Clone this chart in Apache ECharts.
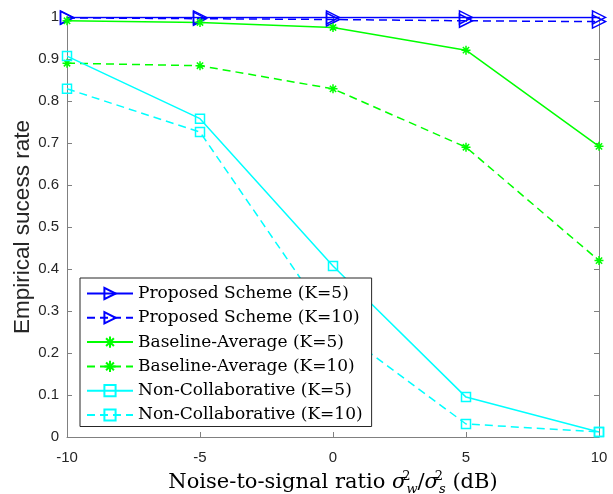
<!DOCTYPE html>
<html>
<head>
<meta charset="utf-8">
<script src="https://cdn.jsdelivr.net/npm/echarts@6/dist/echarts.min.js"></script>
<style>
html,body{margin:0;padding:0;background:#fff;}
#chart{width:613px;height:494px;}
</style>
</head>
<body>
<div id="chart"></div>
<script>
// ---- data ----
const xValues = [-10, -5, 0, 5, 10];
const xTicks = [-10, -5, 0, 5, 10];
const yTicks = [0, 0.1, 0.2, 0.3, 0.4, 0.5, 0.6, 0.7, 0.8, 0.9, 1];
const seriesNames = [
  'Proposed Scheme (K=5)',
  'Proposed Scheme (K=10)',
  'Baseline-Average (K=5)',
  'Baseline-Average (K=10)',
  'Non-Collaborative (K=5)',
  'Non-Collaborative (K=10)'
];
const proposedK5 = [0.999, 0.999, 0.999, 0.999, 0.999];
const proposedK10 = [0.998, 0.996, 0.994, 0.991, 0.989];
const baselineK5 = [0.991, 0.987, 0.975, 0.921, 0.692];
const baselineK10 = [0.890, 0.884, 0.829, 0.690, 0.420];
const nonCollabK5 = [0.907, 0.758, 0.407, 0.095, 0.012];
const nonCollabK10 = [0.829, 0.726, 0.265, 0.031, 0.012];

const BLUE = '#0000ff', GREEN = '#00ff00', CYAN = '#00ffff';
const STAR = 'path://M0,-10L0,10M-10,0L10,0M-7,-7L7,7M-7,7L7,-7';

function mk(name, vals, color, symbol, dashed, size, rot) {
  return {
    name: name,
    type: 'line',
    data: xValues.map((x, i) => [x, vals[i]]),
    symbol: symbol,
    symbolSize: size,
    symbolRotate: rot || 0,
    showAllSymbol: true,
    lineStyle: { color: color, width: 1.5, type: dashed ? [8, 5] : 'solid' },
    itemStyle: { color: 'rgba(0,0,0,0)', borderColor: color, borderWidth: 1.5 },
    emphasis: { disabled: true },
    animation: false,
    z: 2
  };
}

const series = [
  mk(seriesNames[0], proposedK5, BLUE, 'triangle', false, 13, -90),
  mk(seriesNames[1], proposedK10, BLUE, 'triangle', true, 13, -90),
  mk(seriesNames[2], baselineK5, GREEN, STAR, false, 9),
  mk(seriesNames[3], baselineK10, GREEN, STAR, true, 9),
  mk(seriesNames[4], nonCollabK5, CYAN, 'rect', false, 9),
  mk(seriesNames[5], nonCollabK10, CYAN, 'rect', true, 9)
];

const axisCol = '#808080';
const labCol = '#262626';
const grid = { left: 67, right: 14, top: 17, bottom: 57, containLabel: false, outerBoundsMode: 'none' };

const chart = echarts.init(document.getElementById('chart'), null, { renderer: 'canvas' });
chart.setOption({
  backgroundColor: '#ffffff',
  animation: false,
  grid: grid,
  legend: {
    orient: 'vertical',
    left: 80,
    top: 278,
    data: seriesNames,
    itemWidth: 46,
    itemHeight: 14,
    itemGap: 7.3,
    padding: [7, 9, 3, 6],
    backgroundColor: '#ffffff',
    borderColor: '#262626',
    borderWidth: 1,
    borderRadius: 0,
    textStyle: { fontFamily: 'DejaVu Serif', fontSize: 17, color: '#000' },
    selectedMode: false,
    z: 10
  },
  xAxis: [{
    type: 'value', min: -10, max: 10, interval: 5,
    position: 'bottom',
    axisLine: { show: true, onZero: false, lineStyle: { color: axisCol, width: 1 } },
    axisTick: { show: true, inside: true, length: 5, lineStyle: { color: axisCol } },
    splitLine: { show: false },
    axisLabel: { color: labCol, fontFamily: 'Liberation Sans', fontSize: 15, margin: 13,
      formatter: v => xTicks.includes(v) ? String(v) : '' },
    name: '{t|Noise-to-signal ratio }{i|σ}{sup|2}{sub|w}{t|/}{i|σ}{sup|2}{sub|s}{t| (dB)}',
    nameLocation: 'middle',
    nameGap: 31,
    nameTextStyle: {
      rich: {
        t: { fontFamily: 'DejaVu Serif', fontSize: 21, color: '#000', lineHeight: 26, verticalAlign: 'middle' },
        i: { fontFamily: 'DejaVu Serif', fontStyle: 'italic', fontSize: 21, color: '#000', lineHeight: 26, verticalAlign: 'middle' },
        sup: { fontFamily: 'DejaVu Serif', fontSize: 13, color: '#000', lineHeight: 26, verticalAlign: 'top', width: 0.1 },
        sub: { fontFamily: 'DejaVu Serif', fontStyle: 'italic', fontSize: 13, color: '#000', lineHeight: 26, verticalAlign: 'bottom' }
      }
    }
  }, {
    type: 'value', min: -10, max: 10, interval: 5,
    position: 'top',
    axisLine: { show: true, onZero: false, lineStyle: { color: axisCol, width: 1 } },
    axisTick: { show: true, inside: true, length: 5, lineStyle: { color: axisCol } },
    axisLabel: { show: false },
    splitLine: { show: false }
  }],
  yAxis: [{
    type: 'value', min: 0, max: 1, interval: 0.1,
    position: 'left',
    axisLine: { show: true, onZero: false, lineStyle: { color: axisCol, width: 1 } },
    axisTick: { show: true, inside: true, length: 5, lineStyle: { color: axisCol } },
    splitLine: { show: false },
    axisLabel: { color: labCol, fontFamily: 'Liberation Sans', fontSize: 15, margin: 8,
      formatter: v => { const r = Math.round(v * 10) / 10; return String(r); } },
    name: 'Empirical sucess rate',
    nameLocation: 'middle',
    nameGap: 33,
    nameMoveOverlap: false,
    nameRotate: 90,
    nameTextStyle: { fontFamily: 'Liberation Sans', fontSize: 22.5, color: labCol }
  }, {
    type: 'value', min: 0, max: 1, interval: 0.1,
    position: 'right',
    axisLine: { show: true, onZero: false, lineStyle: { color: axisCol, width: 1 } },
    axisTick: { show: true, inside: true, length: 5, lineStyle: { color: axisCol } },
    axisLabel: { show: false },
    splitLine: { show: false }
  }],
  series: series
});
</script>
</body>
</html>
